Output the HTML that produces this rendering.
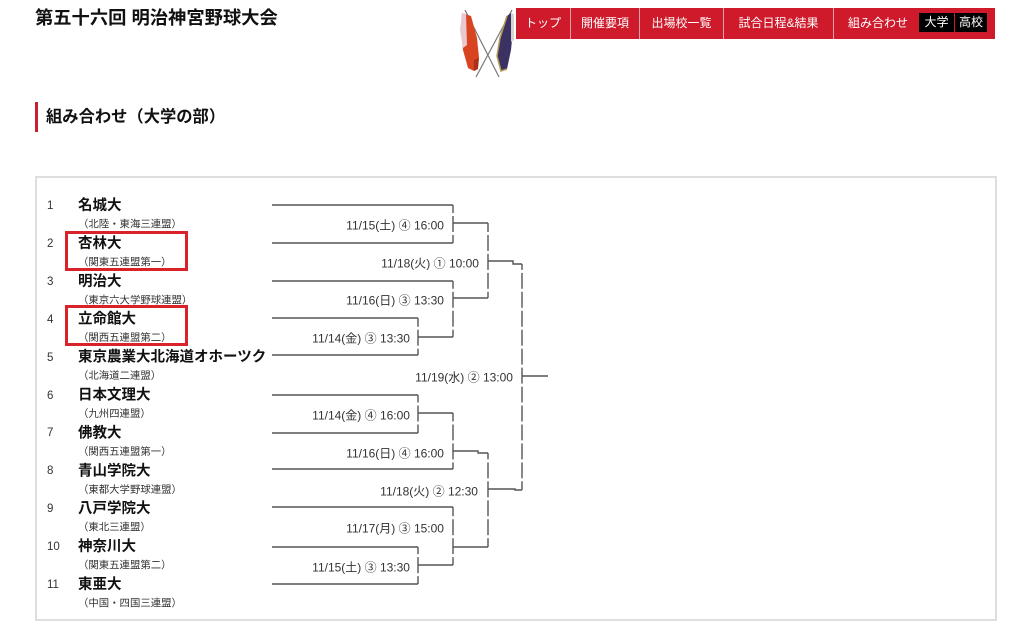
<!DOCTYPE html>
<html><head><meta charset="utf-8">
<style>
html,body{margin:0;padding:0;background:#fff;}
body{width:1024px;height:636px;position:relative;overflow:hidden;font-family:"Liberation Sans","Noto Sans CJK JP",sans-serif;color:#222;}
.abs{position:absolute;white-space:nowrap;}
#title{left:35px;top:6px;font-size:18.3px;font-weight:bold;line-height:24px;color:#111;}
#nav{left:516px;top:8px;width:479px;height:31px;background:#cf1a2b;}
.ni{position:absolute;top:0;height:31px;line-height:31px;color:#fff;font-size:12px;text-align:center;}
.div{position:absolute;top:0;width:1px;height:31px;background:#e8a0a8;}
.blk{position:absolute;top:5px;height:19px;line-height:19px;background:#000;color:#fff;font-size:12px;text-align:center;}
#sbar{left:35px;top:102px;width:3px;height:30px;background:#c8202e;}
#stitle{left:46px;top:106px;font-size:16.3px;font-weight:bold;line-height:22px;color:#111;}
#box{left:35px;top:176px;width:958px;height:441px;border:2px solid #dedede;}
.rb{position:absolute;border:3px solid #d9222a;box-sizing:border-box;}
</style></head>
<body>
<div class="abs" id="title">第五十六回 明治神宮野球大会</div>

<svg class="abs" style="left:0;top:0" width="1024" height="90">
  <line x1="465" y1="10" x2="499" y2="77" stroke="#777" stroke-width="1.2"/>
  <line x1="512" y1="10" x2="476" y2="77" stroke="#777" stroke-width="1.2"/>
  <polygon points="462,13 471,16 477,38 479,58 474,71 468,68 463,50 461,30" fill="#d8441f"/>
  <polygon points="462,13 466,14 467,45 463,48 460,30" fill="#e9c8cf"/>
  <polygon points="474,60 479,58 478,69 474,71" fill="#a8301a"/>
  <polygon points="511,13 507,16 500,38 497,56 501,71 507,69 511,50 513,30" fill="#3b3163"/>
  <polyline points="507,16 500,38 497,56 501,71 507,69" fill="none" stroke="#b49a55" stroke-width="1.5"/>
  <polygon points="511,13 514,14 514,40 511,42" fill="#d9d2c8"/>
</svg>

<div class="abs" id="nav">
  <div class="ni" style="left:0;width:54px">トップ</div>
  <div class="div" style="left:54px"></div>
  <div class="ni" style="left:55px;width:68px">開催要項</div>
  <div class="div" style="left:123px"></div>
  <div class="ni" style="left:124px;width:83px">出場校一覧</div>
  <div class="div" style="left:207px"></div>
  <div class="ni" style="left:208px;width:109px">試合日程&amp;結果</div>
  <div class="div" style="left:317px"></div>
  <div class="ni" style="left:332px;width:59px">組み合わせ</div>
  <div class="blk" style="left:403px;width:35px">大学</div>
  <div class="blk" style="left:439px;width:32px">高校</div>
</div>

<div class="abs" id="sbar"></div>
<div class="abs" id="stitle">組み合わせ（大学の部）</div>

<div class="abs" id="box"></div>

<svg class="abs" style="left:0;top:0" width="1024" height="636" font-family="Liberation Sans, Noto Sans CJK JP, sans-serif">
  <g fill="#333" font-size="11.5">
    <text x="47" y="209">1</text>
    <text x="47" y="247">2</text>
    <text x="47" y="285">3</text>
    <text x="47" y="323">4</text>
    <text x="47" y="361">5</text>
    <text x="47" y="399">6</text>
    <text x="47" y="436">7</text>
    <text x="47" y="474">8</text>
    <text x="47" y="512">9</text>
    <text x="47" y="550">10</text>
    <text x="47" y="588">11</text>
  </g>
  <g fill="#111" font-size="14.5" font-weight="bold">
    <text x="78" y="210">名城大</text>
    <text x="78" y="247.9">杏林大</text>
    <text x="78" y="285.8">明治大</text>
    <text x="78" y="323.7">立命館大</text>
    <text x="78" y="361.6">東京農業大北海道オホーツク</text>
    <text x="78" y="399.5">日本文理大</text>
    <text x="78" y="437.4">佛教大</text>
    <text x="78" y="475.3">青山学院大</text>
    <text x="78" y="513.2">八戸学院大</text>
    <text x="78" y="551.1">神奈川大</text>
    <text x="78" y="589">東亜大</text>
  </g>
  <g fill="#333" font-size="10.4">
    <text x="78" y="227.5">（北陸・東海三連盟）</text>
    <text x="78" y="265.4">（関東五連盟第一）</text>
    <text x="78" y="303.3">（東京六大学野球連盟）</text>
    <text x="78" y="341.2">（関西五連盟第二）</text>
    <text x="78" y="379.1">（北海道二連盟）</text>
    <text x="78" y="417">（九州四連盟）</text>
    <text x="78" y="454.9">（関西五連盟第一）</text>
    <text x="78" y="492.8">（東都大学野球連盟）</text>
    <text x="78" y="530.7">（東北三連盟）</text>
    <text x="78" y="568.6">（関東五連盟第二）</text>
    <text x="78" y="606.5">（中国・四国三連盟）</text>
  </g>

  <g stroke="#555" stroke-width="1.4" fill="none">
    <line x1="272" y1="205" x2="453" y2="205"/>
    <line x1="272" y1="243" x2="453" y2="243"/>
    <line x1="272" y1="281" x2="453" y2="281"/>
    <line x1="272" y1="318" x2="418" y2="318"/>
    <line x1="272" y1="355" x2="418" y2="355"/>
    <line x1="272" y1="395" x2="418" y2="395"/>
    <line x1="272" y1="433" x2="418" y2="433"/>
    <line x1="272" y1="469" x2="453" y2="469"/>
    <line x1="272" y1="507" x2="453" y2="507"/>
    <line x1="272" y1="547" x2="418" y2="547"/>
    <line x1="272" y1="584" x2="418" y2="584"/>
    <line x1="453" y1="205" x2="453" y2="243"/>
    <line x1="453" y1="281" x2="453" y2="337"/>
    <line x1="453" y1="413" x2="453" y2="469"/>
    <line x1="453" y1="507" x2="453" y2="565"/>
    <line x1="418" y1="318" x2="418" y2="355"/>
    <line x1="418" y1="395" x2="418" y2="433"/>
    <line x1="418" y1="547" x2="418" y2="584"/>
    <line x1="488" y1="223" x2="488" y2="298"/>
    <line x1="488" y1="453" x2="488" y2="547"/>
    <line x1="522" y1="264" x2="522" y2="490"/>
    <line x1="453" y1="223" x2="488" y2="223"/>
    <line x1="418" y1="337" x2="453" y2="337"/>
    <line x1="453" y1="298" x2="488" y2="298"/>
    <polyline points="488,261 513,261 513,264 522,264"/>
    <line x1="522" y1="376" x2="548" y2="376"/>
    <line x1="418" y1="413" x2="453" y2="413"/>
    <polyline points="453,451 478,451 478,453 488,453"/>
    <polyline points="488,489 515,489 515,490 522,490"/>
    <line x1="453" y1="547" x2="488" y2="547"/>
    <line x1="418" y1="565" x2="453" y2="565"/>
  </g>
  <g fill="#fff">
    <rect x="416" y="213.0" width="4" height="3"/><rect x="451" y="213.0" width="4" height="3"/><rect x="486" y="213.0" width="4" height="3"/><rect x="520" y="213.0" width="4" height="3"/>
    <rect x="416" y="232.0" width="4" height="3"/><rect x="451" y="232.0" width="4" height="3"/><rect x="486" y="232.0" width="4" height="3"/><rect x="520" y="232.0" width="4" height="3"/>
    <rect x="416" y="250.9" width="4" height="3"/><rect x="451" y="250.9" width="4" height="3"/><rect x="486" y="250.9" width="4" height="3"/><rect x="520" y="250.9" width="4" height="3"/>
    <rect x="416" y="269.9" width="4" height="3"/><rect x="451" y="269.9" width="4" height="3"/><rect x="486" y="269.9" width="4" height="3"/><rect x="520" y="269.9" width="4" height="3"/>
    <rect x="416" y="288.8" width="4" height="3"/><rect x="451" y="288.8" width="4" height="3"/><rect x="486" y="288.8" width="4" height="3"/><rect x="520" y="288.8" width="4" height="3"/>
    <rect x="416" y="307.8" width="4" height="3"/><rect x="451" y="307.8" width="4" height="3"/><rect x="486" y="307.8" width="4" height="3"/><rect x="520" y="307.8" width="4" height="3"/>
    <rect x="416" y="326.7" width="4" height="3"/><rect x="451" y="326.7" width="4" height="3"/><rect x="486" y="326.7" width="4" height="3"/><rect x="520" y="326.7" width="4" height="3"/>
    <rect x="416" y="345.7" width="4" height="3"/><rect x="451" y="345.7" width="4" height="3"/><rect x="486" y="345.7" width="4" height="3"/><rect x="520" y="345.7" width="4" height="3"/>
    <rect x="416" y="364.6" width="4" height="3"/><rect x="451" y="364.6" width="4" height="3"/><rect x="486" y="364.6" width="4" height="3"/><rect x="520" y="364.6" width="4" height="3"/>
    <rect x="416" y="383.6" width="4" height="3"/><rect x="451" y="383.6" width="4" height="3"/><rect x="486" y="383.6" width="4" height="3"/><rect x="520" y="383.6" width="4" height="3"/>
    <rect x="416" y="402.5" width="4" height="3"/><rect x="451" y="402.5" width="4" height="3"/><rect x="486" y="402.5" width="4" height="3"/><rect x="520" y="402.5" width="4" height="3"/>
    <rect x="416" y="421.5" width="4" height="3"/><rect x="451" y="421.5" width="4" height="3"/><rect x="486" y="421.5" width="4" height="3"/><rect x="520" y="421.5" width="4" height="3"/>
    <rect x="416" y="440.4" width="4" height="3"/><rect x="451" y="440.4" width="4" height="3"/><rect x="486" y="440.4" width="4" height="3"/><rect x="520" y="440.4" width="4" height="3"/>
    <rect x="416" y="459.4" width="4" height="3"/><rect x="451" y="459.4" width="4" height="3"/><rect x="486" y="459.4" width="4" height="3"/><rect x="520" y="459.4" width="4" height="3"/>
    <rect x="416" y="478.3" width="4" height="3"/><rect x="451" y="478.3" width="4" height="3"/><rect x="486" y="478.3" width="4" height="3"/><rect x="520" y="478.3" width="4" height="3"/>
    <rect x="416" y="497.3" width="4" height="3"/><rect x="451" y="497.3" width="4" height="3"/><rect x="486" y="497.3" width="4" height="3"/><rect x="520" y="497.3" width="4" height="3"/>
    <rect x="416" y="516.2" width="4" height="3"/><rect x="451" y="516.2" width="4" height="3"/><rect x="486" y="516.2" width="4" height="3"/><rect x="520" y="516.2" width="4" height="3"/>
    <rect x="416" y="535.2" width="4" height="3"/><rect x="451" y="535.2" width="4" height="3"/><rect x="486" y="535.2" width="4" height="3"/><rect x="520" y="535.2" width="4" height="3"/>
    <rect x="416" y="554.1" width="4" height="3"/><rect x="451" y="554.1" width="4" height="3"/><rect x="486" y="554.1" width="4" height="3"/><rect x="520" y="554.1" width="4" height="3"/>
    <rect x="416" y="573.1" width="4" height="3"/><rect x="451" y="573.1" width="4" height="3"/><rect x="486" y="573.1" width="4" height="3"/><rect x="520" y="573.1" width="4" height="3"/>
  </g>

  <g fill="#333" font-size="12" text-anchor="end">
    <text x="444" y="229.3">11/15(土) ④ 16:00</text>
    <text x="479" y="267.3">11/18(火) ① 10:00</text>
    <text x="444" y="304.3">11/16(日) ③ 13:30</text>
    <text x="410" y="342.3">11/14(金) ③ 13:30</text>
    <text x="513" y="381.3">11/19(水) ② 13:00</text>
    <text x="410" y="419.3">11/14(金) ④ 16:00</text>
    <text x="444" y="457.3">11/16(日) ④ 16:00</text>
    <text x="478" y="495.3">11/18(火) ② 12:30</text>
    <text x="444" y="532.3">11/17(月) ③ 15:00</text>
    <text x="410" y="571.3">11/15(土) ③ 13:30</text>
  </g>
</svg>

<div class="rb" style="left:65px;top:231px;width:123px;height:40px"></div>
<div class="rb" style="left:65px;top:305px;width:123px;height:41px"></div>
</body></html>
